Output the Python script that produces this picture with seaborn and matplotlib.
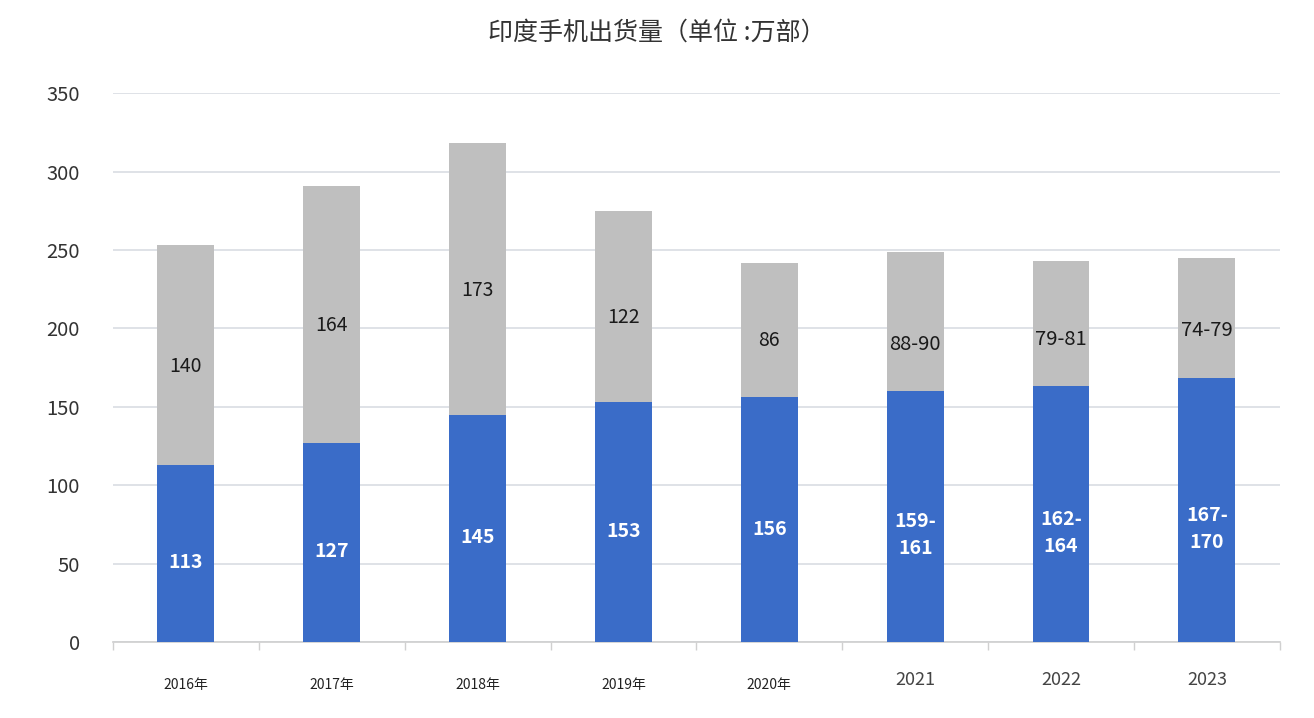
import matplotlib.pyplot as plt
import seaborn as sns
import pandas as pd

years = ["2016年", "2017年", "2018年", "2019年", "2020年", "2021", "2022", "2023"]
base = [113, 127, 145, 153, 156, 160, 163, 168.5]
extra = [140, 164, 173, 122, 86, 89, 80, 76.5]
baseLabels = ["113", "127", "145", "153", "156", "159-\n161", "162-\n164", "167-\n170"]
extraLabels = ["140", "164", "173", "122", "86", "88-90", "79-81", "74-79"]

df = pd.DataFrame({"year": years, "base": base, "extra": extra})
df["total"] = df["base"] + df["extra"]

sns.set_theme(style="white")
plt.rcParams['font.family'] = ['Noto Sans CJK SC', 'DejaVu Sans']

fig = plt.figure(figsize=(13.14, 7.18), dpi=100)
ax = fig.add_axes([0.086, 0.106, 0.888, 0.764])

sns.barplot(data=df, x="year", y="total", color="#BFBFBF", width=0.39, saturation=1,
            linewidth=0, ax=ax, zorder=2)
sns.barplot(data=df, x="year", y="base", color="#3A6CC8", width=0.39, saturation=1,
            linewidth=0, ax=ax, zorder=3)

for i in range(len(years)):
    ranged = "-" in extraLabels[i]
    yb = df["base"][i] / 2 - (12 if ranged else 6)
    ye = df["base"][i] + (30 if ranged else df["extra"][i] / 2 - 7)
    ax.text(i, yb, baseLabels[i], ha="center", va="center",
            color="white", fontsize=14, fontweight="bold", zorder=4, linespacing=1.55)
    ax.text(i, ye, extraLabels[i], ha="center", va="center",
            color="#1a1a1a", fontsize=14.5 if ranged else 14, zorder=4)

ax.set_xlim(-0.5, 7.5)
ax.set_ylim(0, 350)
ax.set_yticks(range(0, 351, 50))
ax.yaxis.grid(True, color="#D9DDE3", linewidth=1.2, zorder=0)
ax.set_axisbelow(True)
for s in ["left", "right", "top"]:
    ax.spines[s].set_visible(False)
ax.spines["bottom"].set_color("#D0D0D0")
ax.set_xlabel("")
ax.set_ylabel("")
ax.tick_params(axis="y", length=0, labelsize=14.5, pad=24, labelcolor="#333333")

ax.set_xticks(range(len(years)))
ax.set_xticklabels(years)
ax.tick_params(axis="x", length=0, pad=26)
for lbl in ax.get_xticklabels():
    if "年" in lbl.get_text():
        lbl.set_fontsize(10)
        lbl.set_color("#222222")
        lbl.set_fontweight("medium")
    else:
        lbl.set_fontsize(13)
        lbl.set_color("#444444")
        lbl.set_y(0.012)
ax.set_xticks([i - 0.5 for i in range(len(years) + 1)], minor=True)
ax.tick_params(axis="x", which="minor", length=6, color="#D0D0D0", direction="out", bottom=True)

fig.text(0.5, 0.955, "印度手机出货量（单位 :万部）", ha="center", va="center", fontsize=18, color="#333333")

fig.savefig("out.png", dpi=100)
